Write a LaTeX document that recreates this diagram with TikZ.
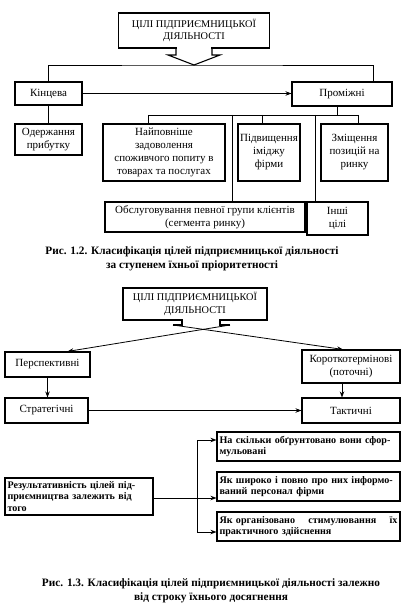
\documentclass[tikz,border=0pt]{standalone}
\usepackage{fontspec}
\setmainfont{Liberation Serif}
\usetikzlibrary{positioning, arrows.meta}

\begin{document}
\begin{tikzpicture}[x=1pt, y=-1pt,
    box/.style={rectangle, draw, line width=1.1pt, align=center, inner sep=0pt,
        font=\fontsize{11}{13}\selectfont},
    titlebox/.style={box, font=\fontsize{10.3}{12.5}\selectfont},
    leftbox/.style={box, align=left, inner sep=2.5pt, font=\bfseries\fontsize{10.1}{11.8}\selectfont},
    arrow/.style={-{Stealth[length=6pt, width=4.5pt]}},
    caption/.style={align=center, font=\bfseries\fontsize{11.3}{13.5}\selectfont},
    line width=0.8pt
]
\useasboundingbox (0,0) rectangle (410,612);

\node[titlebox, minimum width=151pt, minimum height=35pt] (goal1) at (194,30.5) {ЦІЛІ ПІДПРИЄМНИЦЬКОЇ \\ ДІЯЛЬНОСТІ};
\node[box, minimum width=67pt, minimum height=23pt] (kinc) at (48.5,93.5) {Кінцева};
\node[box, minimum width=100pt, minimum height=24pt] (prom) at (342,94) {Проміжні};
\node[box, minimum width=67pt, minimum height=31pt] (prof) at (48.5,139.5) {Одержання \\ прибутку};
\node[box, minimum width=122pt, minimum height=57pt] (demand) at (164,152.5) {Найповніше \\ задоволення \\ споживчого попиту в \\ товарах та послугах};
\node[box, minimum width=62pt, minimum height=57pt] (image) at (269,152.5) {Підвищення \\ іміджу \\ фірми};
\node[box, minimum width=67pt, minimum height=57pt] (market) at (354.5,152.5) {Зміщення \\ позицій на \\ ринку};
\node[box, minimum width=200pt, minimum height=30pt] (segment) at (205,217) {Обслуговування певної групи клієнтів \\ (сегмента ринку)};
\node[box, minimum width=61pt, minimum height=33pt] (other) at (337.5,218.5) {Інші \\ цілі};
\node[caption] (cap1) at (192,259) {Рис. 1.2. Класифікація цілей підприємницької діяльності \\ за ступенем їхньої пріоритетності};

\coordinate (tip1) at (194,65);
\fill[white] (176.6,45) rectangle (211.4,50);
\draw[line width=1.1pt] (176,47.5) -- (176,55) -- (168,55) -- (tip1) -- (220,55) -- (212,55) -- (212,47.5);
\draw (kinc.north) |- (tip1) -| ([xshift=31pt]prom.north);
\draw [arrow] (kinc.east) -- (prom.west |- kinc.east);
\draw (kinc.south) -- (prof.north);

\coordinate (bus1) at (148,115);
\coordinate (bus2) at (232,115);
\coordinate (bus3) at (262,115);
\coordinate (bus4) at (315,115);
\coordinate (bus5) at (358,115);
\draw (bus1) -- (bus5);
\draw ([xshift=-5pt]prom.south) -- ([xshift=-5pt]prom.south |- bus1);
\draw (bus1) -- (bus1 |- demand.north);
\draw (bus2) -- (bus2 |- segment.north);
\draw (bus3) -- (bus3 |- image.north);
\draw (bus4) -- (bus4 |- other.north);
\draw (bus5) -- (bus5 |- market.north);

\node[titlebox, minimum width=144pt, minimum height=32pt] (goal2) at (195,304) {ЦІЛІ ПІДПРИЄМНИЦЬКОЇ \\ ДІЯЛЬНОСТІ};
\node[box, minimum width=85pt, minimum height=25pt] (persp) at (47.5,364.5) {Перспективні};
\node[box, minimum width=98pt, minimum height=33pt] (short) at (351,366.5) {Короткотермінові \\ (поточні)};
\node[box, minimum width=83pt, minimum height=25pt] (strat) at (46.5,410.5) {Стратегічні};
\node[box, minimum width=98pt, minimum height=25pt] (tact) at (351,410.5) {Тактичні};

\coordinate (stubl) at (173,325);
\coordinate (stubr) at (230,325);
\fill[white] (182.6,317) rectangle (219.4,322);
\draw[line width=1.1pt] (182,319.5) -- (182,325) -- (stubl);
\draw[line width=1.1pt] (220,319.5) -- (220,325) -- (stubr);
\draw [arrow] (stubl) -- ([xshift=-8pt]short.north);
\draw [arrow] (stubr) -- ([xshift=20pt]persp.north);
\draw [arrow] (persp.south) -- (strat.north -| persp.south);
\draw [arrow] ([xshift=-9pt]short.south) -- ([xshift=-9pt]tact.north);
\draw [arrow] (strat.east) -- (tact.west);

\node[leftbox, text width=143pt, minimum height=37pt] (result) at (79,496.5) {Результативність цілей під-\\приємництва залежить від \\ того};
\node[leftbox, text width=178pt, minimum height=29pt] (how1) at (308.5,446.5) {На скільки обґрунтовано вони сфор-\\мульовані};
\node[leftbox, text width=178pt, minimum height=29pt] (how2) at (308.5,486.5) {Як широко і повно про них інформо-\\ваний персонал фірми};
\node[leftbox, text width=178pt, minimum height=29pt] (how3) at (308.5,526.5) {Як організовано\hfill стимулювання\hfill їх \\ практичного здійснення};
\node[caption] (cap2) at (211,591) {Рис. 1.3. Класифікація цілей підприємницької діяльності залежно \\ від строку їхнього досягнення};

\coordinate (fork) at (197,498);
\draw (result.east |- fork) -- (fork);
\draw [arrow] (fork) |- ([yshift=6.5pt]how1.west);
\draw [arrow] (fork) -- (how2.west |- fork);
\draw [arrow] (fork) |- ([yshift=-5.5pt]how3.west);
\end{tikzpicture}
\end{document}
